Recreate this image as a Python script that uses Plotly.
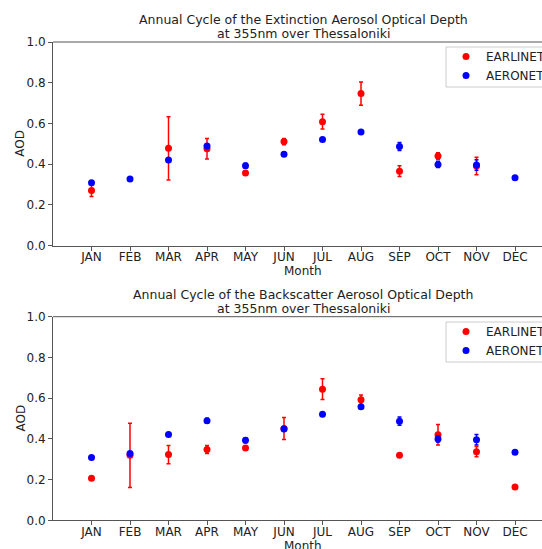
import plotly.graph_objects as go

months = ["JAN", "FEB", "MAR", "APR", "MAY", "JUN", "JUL", "AUG", "SEP", "OCT", "NOV", "DEC"]
month_num = list(range(1, 13))

# Extinction AOD (EARLINET)
ext_earlinet = [0.271, None, 0.478, 0.476, 0.357, 0.511, 0.609, 0.747, 0.366, 0.440, 0.391, None]
ext_earlinet_err = [0.029, None, 0.155, 0.050, 0.008, 0.015, 0.036, 0.057, 0.026, 0.016, 0.043, None]
# Backscatter AOD (EARLINET)
bsc_earlinet = [0.206, 0.319, 0.323, 0.348, 0.355, 0.451, 0.644, 0.592, 0.320, 0.420, 0.337, 0.163]
bsc_earlinet_err = [0.008, 0.158, 0.045, 0.020, 0.010, 0.054, 0.051, 0.023, 0.005, 0.050, 0.025, 0.005]
# AERONET
aeronet = [0.309, 0.328, 0.421, 0.489, 0.393, 0.449, 0.521, 0.558, 0.487, 0.399, 0.396, 0.334]
aeronet_err = [0.006, 0.006, 0.006, 0.012, 0.012, 0.008, 0.006, 0.006, 0.020, 0.015, 0.026, 0.006]

y_ticks = [0.0, 0.2, 0.4, 0.6, 0.8, 1.0]

W, H = 542, 549
FONT = "DejaVu Sans"
AX = "#555555"

fig = go.Figure()

def add_pair(yvals, yerr, xaxis, yaxis, legend):
    fig.add_trace(go.Scatter(
        x=month_num, y=yvals, mode="markers", name="EARLINET",
        marker=dict(color="red", size=7),
        error_y=dict(type="data", array=yerr, visible=True, color="red", thickness=1.5, width=2),
        xaxis=xaxis, yaxis=yaxis, legend=legend))
    fig.add_trace(go.Scatter(
        x=month_num, y=aeronet, mode="markers", name="AERONET",
        marker=dict(color="blue", size=7),
        error_y=dict(type="data", array=aeronet_err, visible=True, color="blue", thickness=1.5, width=2),
        xaxis=xaxis, yaxis=yaxis, legend=legend))

add_pair(ext_earlinet, ext_earlinet_err, "x", "y", "legend")
add_pair(bsc_earlinet, bsc_earlinet_err, "x2", "y2", "legend2")

def px_y(p):
    return (H - p) / H

xl = 53 / W
x_range = [0, (542 - 53) / 38.5]

axis_common = dict(showgrid=False, zeroline=False, showline=True, linecolor=AX, linewidth=1,
                   ticks="outside", ticklen=4, tickcolor=AX, automargin=False,
                   tickfont=dict(family=FONT, size=12, color="#222"))
x_common = dict(domain=[xl, 1], range=x_range, tickvals=month_num, ticktext=months,
                mirror=False, ticklabelstandoff=-4, **axis_common)
y_common = dict(range=[0, 1], tickvals=y_ticks, tickformat=".1f", mirror=False, **axis_common)

legend_common = dict(xanchor="left", yanchor="top",
                     bgcolor="rgba(0,0,0,0)", borderwidth=0,
                     font=dict(family=FONT, size=12, color="#222"), tracegroupgap=0)

fig.update_layout(
    width=W, height=H, margin=dict(l=0, r=0, t=0, b=0, autoexpand=False),
    plot_bgcolor="rgba(0,0,0,0)", paper_bgcolor="white",
    font=dict(family=FONT, size=12, color="#222"),
    xaxis=dict(anchor="y", **x_common),
    yaxis=dict(domain=[px_y(245.7), px_y(42)], anchor="x", **y_common),
    xaxis2=dict(anchor="y2", **x_common),
    yaxis2=dict(domain=[px_y(520.3), px_y(316.7)], anchor="x2", **y_common),
    legend=dict(x=446 / W, y=px_y(42), **legend_common),
    legend2=dict(x=446 / W, y=px_y(317), **legend_common),
    showlegend=True,
)

# top spines
for top in [42, 316.7]:
    fig.add_shape(type="line", xref="paper", yref="paper",
                  x0=xl, x1=1.02, y0=px_y(top), y1=px_y(top),
                  line=dict(color=AX, width=1), layer="above")

# legend frames
for top, bot in [(47, 87), (322, 362)]:
    fig.add_shape(type="rect", xref="paper", yref="paper",
                  x0=446 / W, x1=1.05, y0=px_y(bot), y1=px_y(top),
                  line=dict(color="#cccccc", width=1), fillcolor="rgba(255,255,255,0.8)",
                  layer="above")

cx = 303 / W
ann = [
    ("Annual Cycle of the Extinction Aerosol Optical Depth", cx, 19.5, 12.5),
    ("at 355nm over Thessaloniki", cx, 33.5, 12.5),
    ("Annual Cycle of the Backscatter Aerosol Optical Depth", cx, 294.5, 12.5),
    ("at 355nm over Thessaloniki", cx, 308.5, 12.5),
    ("Month", cx, 271, 12),
    ("Month", cx, 546, 12),
]
for text, x, y, fs in ann:
    fig.add_annotation(text=text, x=x, y=px_y(y), xref="paper", yref="paper",
                       xanchor="center", yanchor="middle", showarrow=False,
                       font=dict(family=FONT, size=fs, color="#222"))
for y in [143.8, 418.5]:
    fig.add_annotation(text="AOD", x=20 / W, y=px_y(y), xref="paper", yref="paper",
                       xanchor="center", yanchor="middle", showarrow=False, textangle=-90,
                       font=dict(family=FONT, size=12, color="#222"))

fig.write_html("out.html", config={"displayModeBar": False})
